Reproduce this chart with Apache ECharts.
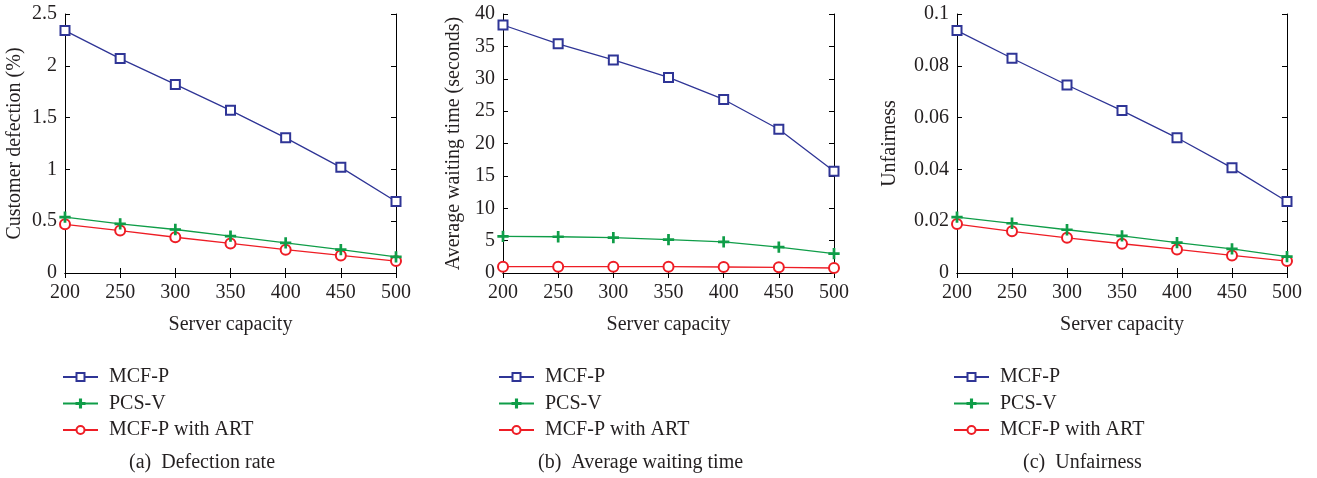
<!DOCTYPE html>
<html>
<head>
<meta charset="utf-8">
<script src="https://cdn.jsdelivr.net/npm/echarts@6/dist/echarts.min.js"></script>
<style>
  html, body { margin: 0; padding: 0; background: #fff; }
  #chart { width: 1317px; height: 478px; }
</style>
</head>
<body>
<div id="chart"></div>
<script>
// Server capacity values on the x axis
const capacity = [200, 250, 300, 350, 400, 450, 500];

// (a) Customer defection (%)
const defectionMCFP = [2.34, 2.07, 1.82, 1.57, 1.305, 1.02, 0.69];
const defectionPCSV = [0.54, 0.475, 0.42, 0.355, 0.29, 0.225, 0.155];
const defectionART  = [0.47, 0.41, 0.345, 0.285, 0.225, 0.17, 0.115];

// (b) Average waiting time (seconds)
const waitMCFP = [38.3, 35.4, 32.9, 30.2, 26.8, 22.2, 15.7];
const waitPCSV = [5.65, 5.6, 5.45, 5.15, 4.8, 4.0, 3.0];
const waitART  = [0.98, 0.98, 0.98, 0.97, 0.93, 0.87, 0.77];

// (c) Unfairness
const unfairMCFP = [0.0936, 0.0829, 0.0726, 0.0627, 0.0522, 0.0406, 0.0276];
const unfairPCSV = [0.0216, 0.0192, 0.0167, 0.0143, 0.0117, 0.0093, 0.0063];
const unfairART  = [0.0189, 0.0161, 0.0136, 0.0113, 0.0091, 0.0068, 0.0046];

const seriesNames = ['MCF-P', 'PCS-V', 'MCF-P with ART'];
const captions = ['(a)  Defection rate', '(b)  Average waiting time', '(c)  Unfairness'];
const yNames = ['Customer defection (%)', 'Average waiting time (seconds)', 'Unfairness'];
const yMax = [2.5, 40, 0.1];
const yStep = [0.5, 5, 0.02];

const FONT = '"Liberation Serif", "DejaVu Serif", serif';
const TEXT = '#231f20';
const BLUE = '#2f3596';
const GREEN = '#0f9d48';
const RED = '#ee1d25';
// thin "+" marker drawn as a filled cross outline
const PLUS = 'path://M4.3,0H5.7V4.3H10V5.7H5.7V10H4.3V5.7H0V4.3H4.3Z';

const panels = [
  { left: 65,  width: 331, data: [defectionMCFP, defectionPCSV, defectionART], yGap: 40, legendLeft: 62,  capX: 129 },
  { left: 503, width: 331, data: [waitMCFP, waitPCSV, waitART],                yGap: 39, legendLeft: 498, capX: 538 },
  { left: 957, width: 330, data: [unfairMCFP, unfairPCSV, unfairART],          yGap: 57, legendLeft: 953, capX: 1023 }
];

const grid = [], xAxis = [], yAxis = [], series = [], legend = [], graphic = [];

const tickStyle = { show: true, inside: true, length: 5, lineStyle: { color: '#000', width: 1 } };
const lineStyleAxis = { show: true, lineStyle: { color: '#000', width: 1 } };
const labelStyle = { color: TEXT, fontFamily: FONT, fontSize: 20 };

panels.forEach((p, i) => {
  grid.push({ left: p.left, width: p.width, top: 14, height: 259 });

  // bottom axis with labels, top axis mirrors the ticks
  xAxis.push({
    type: 'value', gridIndex: i, min: 200, max: 500, interval: 50, position: 'bottom',
    name: 'Server capacity', nameLocation: 'middle', nameGap: 42,
    nameTextStyle: labelStyle,
    axisLine: lineStyleAxis, axisTick: tickStyle,
    axisLabel: Object.assign({ margin: 10 }, labelStyle),
    splitLine: { show: false }
  });
  xAxis.push({
    type: 'value', gridIndex: i, min: 200, max: 500, interval: 50, position: 'top',
    axisLine: lineStyleAxis, axisTick: tickStyle,
    axisLabel: { show: false }, splitLine: { show: false }
  });

  // left axis with labels, right axis mirrors the ticks
  yAxis.push({
    type: 'value', gridIndex: i, min: 0, max: yMax[i], interval: yStep[i], position: 'left',
    name: yNames[i], nameLocation: 'middle', nameGap: p.yGap, nameRotate: 90,
    nameTextStyle: labelStyle,
    axisLine: lineStyleAxis, axisTick: tickStyle,
    axisLabel: Object.assign({ margin: 8 }, labelStyle),
    splitLine: { show: false }
  });
  yAxis.push({
    type: 'value', gridIndex: i, min: 0, max: yMax[i], interval: yStep[i], position: 'right',
    axisLine: lineStyleAxis, axisTick: tickStyle,
    axisLabel: { show: false }, splitLine: { show: false }
  });

  const styles = [
    { color: BLUE,  symbol: 'emptyRect',   size: 9 },
    { color: GREEN, symbol: PLUS,          size: 10 },
    { color: RED,   symbol: 'emptyCircle', size: 10 }
  ];
  p.data.forEach((vals, k) => {
    const s = styles[k];
    series.push({
      type: 'line', name: seriesNames[k],
      xAxisIndex: i * 2, yAxisIndex: i * 2,
      data: capacity.map((c, j) => [c, vals[j]]),
      symbol: s.symbol, symbolSize: s.size, showSymbol: true,
      lineStyle: { color: s.color, width: 1.3 },
      itemStyle: { color: s.color, borderColor: s.color, borderWidth: 1.3 },
      z: 3 - k,
      animation: false
    });
  });

  legend.push({
    orient: 'vertical', left: p.legendLeft, top: 367, padding: 0,
    itemWidth: 35, itemHeight: 10, itemGap: 6.5,
    data: seriesNames,
    textStyle: { color: TEXT, fontFamily: FONT, fontSize: 20, lineHeight: 20, padding: [0, 0, 0, 6] }
  });

  graphic.push({
    type: 'text', left: p.capX, top: 453,
    style: { text: captions[i], fill: TEXT, font: '20px ' + FONT }
  });
});

const chart = echarts.init(document.getElementById('chart'), null, { renderer: 'canvas' });
chart.setOption({
  animation: false,
  backgroundColor: '#fff',
  grid, xAxis, yAxis, series, legend, graphic
});
</script>
</body>
</html>
